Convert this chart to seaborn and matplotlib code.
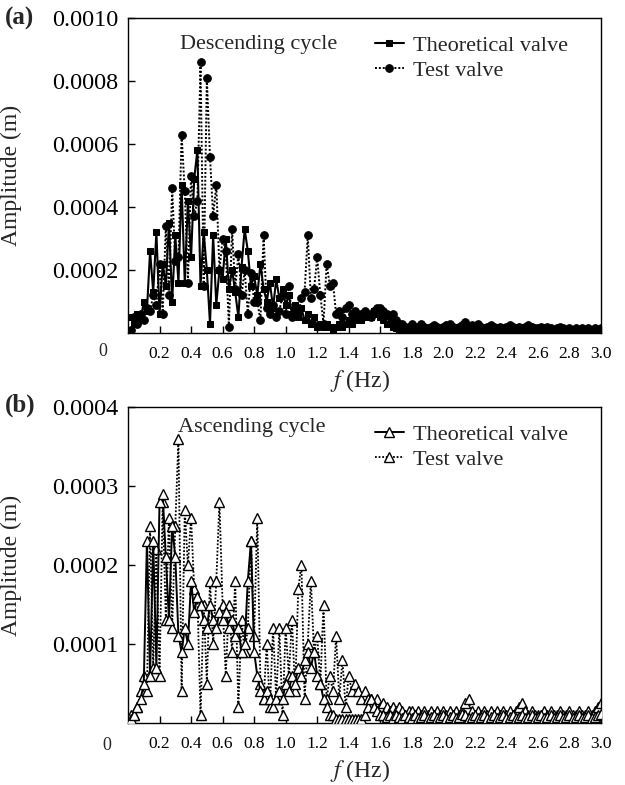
import numpy as np
import pandas as pd
import matplotlib
matplotlib.use("Agg")
import matplotlib.pyplot as plt
import seaborn as sns

# frequency grid (Hz)
freq = np.round(np.arange(1, 151) * 0.02, 2)

# amplitudes in units of 1e-5 m, 10 values per 0.2 Hz
desc_theoretical = [
    5, 3, 6, 4, 10, 7, 26, 13, 32, 6,
    22, 15, 35, 10, 31, 16, 47, 16, 42, 24,
    49, 58, 15, 32, 20, 3, 31, 9, 20, 17,
    30, 14, 20, 13, 5, 21, 33, 26, 15, 18,
    12, 22, 14, 10, 16, 8, 17, 11, 14, 9,
    12, 6, 9, 5, 8, 4, 6, 3, 5, 2,
    3, 2, 3, 2, 1, 2, 3, 2, 3, 4,
    3, 4, 5, 4, 5, 6, 5, 7, 6, 5,
    4, 3, 3, 2, 1.5, 1, 1, 1, 1, 1,
    1, 0.8, 1, 0.8, 1, 0.8, 1, 1, 0.8, 1,
    0.8, 1, 0.8, 1, 1, 0.8, 1, 0.8, 1, 0.8,
    1, 0.8, 1, 0.8, 1, 0.8, 0.8, 1, 0.8, 1,
    0.8, 1, 0.8, 0.8, 1, 0.8, 1, 0.8, 0.8, 1,
    0.8, 0.8, 1, 0.8, 0.8, 1, 0.8, 0.8, 1, 0.8,
    0.8, 0.8, 1, 0.8, 0.8, 0.8, 1, 0.8, 0.8, 0.8,
]
desc_test = [
    1, 5, 3, 6, 4, 8, 7, 12, 9, 22,
    6, 34, 12, 46, 23, 24, 63, 45, 16, 50,
    37, 42, 86, 15, 81, 56, 37, 47, 20, 30,
    26, 2, 33, 14, 25, 12, 20, 6, 19, 10,
    10, 4, 31, 8, 6, 9, 5, 7, 12, 6,
    15, 5, 8, 6, 11, 13, 31, 11, 14, 24,
    12, 3, 22, 15, 16, 6, 7, 5, 8, 9,
    6, 7, 5, 6, 7, 6, 5, 7, 8, 8,
    7, 6, 5, 6, 4, 3, 3, 2, 2, 3,
    2, 2, 3, 2, 1.5, 2, 2.5, 2, 1.5, 2,
    2.5, 3, 2, 1.5, 2, 2.5, 3.5, 2, 2.5, 2,
    3, 2, 1.5, 2, 2.5, 2, 1.5, 2, 1.5, 2,
    2.5, 2, 1.5, 2, 1.5, 2, 2.5, 2, 1.5, 1.5,
    2, 1.5, 2, 1.5, 1, 1.5, 2, 1.5, 1, 1.5,
    1, 1.5, 1, 1.5, 1, 1.5, 1, 1.5, 1, 1.5,
]
asc_theoretical = [
    0.5, 1, 2, 3, 5, 23, 6, 23, 7, 28,
    29, 21, 13, 25, 21, 11, 9, 12, 10, 18,
    14, 16, 15, 13, 12, 15, 13, 12, 14, 13,
    14, 12, 13, 11, 12, 9, 10, 18, 23, 9,
    6, 4, 3, 4, 3, 2, 3, 4, 3, 5,
    4, 6, 5, 7, 6, 8, 9, 7, 9, 6,
    5, 3, 2, 1, 1, 0.5, 0.5, 0.5, 0.5, 0.5,
    0.5, 0.5, 0.5, 0.5, 1, 2, 3, 2, 1.5, 1,
    1, 0.8, 1, 0.6, 1, 0.8, 0.6, 1, 0.8, 0.6,
    1, 0.6, 0.8, 1, 0.6, 0.8, 1, 0.6, 0.8, 1,
    0.6, 0.8, 1, 0.6, 0.8, 1.2, 1, 0.6, 0.8, 1,
    0.6, 0.8, 1, 0.6, 0.8, 1, 0.6, 0.8, 1, 0.6,
    0.8, 1, 0.6, 0.8, 1, 0.6, 0.8, 1, 0.6, 0.8,
    1, 0.6, 0.8, 1, 0.6, 0.8, 1, 0.6, 0.8, 1,
    0.6, 0.8, 1, 0.6, 0.8, 1, 0.6, 0.8, 1, 1.2,
]
asc_test = [
    1, 1, 2, 4, 6, 4, 25, 7, 22, 6,
    28, 13, 26, 12, 25, 36, 4, 27, 20, 26,
    17, 16, 1, 15, 5, 18, 10, 18, 28, 15,
    6, 15, 9, 18, 2, 13, 9, 12, 23, 11,
    26, 5, 3, 10, 2, 12, 3, 12, 1, 12,
    6, 13, 4, 17, 20, 3, 10, 18, 9, 11,
    5, 15, 3, 6, 4, 11, 3, 8, 2, 6,
    4, 5, 4, 3, 4, 3, 3, 2, 3, 2,
    2.5, 2, 1.5, 2, 1.5, 2, 1.5, 1, 1.5, 1.5,
    1, 1.5, 1, 1.5, 1, 1.5, 1, 1.5, 1, 1.5,
    1, 1.5, 1, 1.5, 1, 1.5, 2.5, 3, 1.5, 1,
    1.5, 1, 1.5, 1, 1.5, 1, 1.5, 1, 1.5, 1,
    1.5, 1, 1.5, 2, 2.5, 1.5, 1, 1.5, 1, 1,
    1, 1.5, 1, 1.5, 1, 1, 1.5, 1, 1, 1.5,
    1, 1, 1.5, 1, 1, 1.5, 1, 1.5, 2, 2.5,
]

x_ticks = [0.2, 0.4, 0.6, 0.8, 1.0, 1.2, 1.4, 1.6, 1.8, 2.0, 2.2, 2.4, 2.6, 2.8, 3.0]
x_ticklabels = [f"{t:.1f}" for t in x_ticks]
yticks_a = [0.0002, 0.0004, 0.0006, 0.0008, 0.0010]
yticks_b = [0.0001, 0.0002, 0.0003, 0.0004]

sns.set_style("ticks")
plt.rcParams["font.family"] = ["Liberation Serif", "DejaVu Serif"]
plt.rcParams["mathtext.fontset"] = "stix"

W, H = 625, 785
fig = plt.figure(figsize=(W / 100, H / 100), dpi=100)
L, R = 128, 601
ax1 = fig.add_axes([L / W, 1 - 333 / H, (R - L) / W, 315 / H])
ax2 = fig.add_axes([L / W, 1 - 723 / H, (R - L) / W, 316 / H])

df_a = pd.DataFrame({"f": freq,
                     "theo": np.array(desc_theoretical) * 1e-5,
                     "test": np.array(desc_test) * 1e-5})
df_b = pd.DataFrame({"f": freq,
                     "theo": np.array(asc_theoretical) * 1e-5,
                     "test": np.array(asc_test) * 1e-5})

dot = (0, (1, 1))
sns.lineplot(data=df_a, x="f", y="theo", ax=ax1, color="black", lw=1.5,
             linestyle="-", marker="s", markersize=4.5, markeredgecolor="black",
             label="Theoretical valve", zorder=3, sort=False)
sns.lineplot(data=df_a, x="f", y="test", ax=ax1, color="black", lw=1.4,
             linestyle=dot, marker="o", markersize=5.5, markeredgecolor="black",
             label="Test valve", zorder=2, sort=False)

sns.lineplot(data=df_b, x="f", y="theo", ax=ax2, color="black", lw=1.4,
             linestyle="-", marker="^", markersize=6.5, markerfacecolor="white",
             markeredgecolor="black", markeredgewidth=1.0,
             label="Theoretical valve", zorder=3, sort=False)
sns.lineplot(data=df_b, x="f", y="test", ax=ax2, color="black", lw=1.3,
             linestyle=dot, marker="^", markersize=6.5, markerfacecolor="white",
             markeredgecolor="black", markeredgewidth=1.0,
             label="Test valve", zorder=2, sort=False)

for ax, yt, ymax in [(ax1, yticks_a, 0.0010), (ax2, yticks_b, 0.0004)]:
    ax.set_xlim(0, 3.0)
    ax.set_ylim(0, ymax)
    ax.set_xticks(x_ticks)
    ax.set_xticklabels(x_ticklabels, fontsize=12.5)
    ax.set_yticks(yt)
    ax.set_yticklabels([f"{v:.4f}" for v in yt], fontsize=17.5)
    ax.tick_params(direction="in", length=5, width=1, pad=7, colors="black")
    ax.tick_params(axis="x", pad=9)
    for s in ax.spines.values():
        s.set_visible(True)
        s.set_linewidth(1.0)
        s.set_color("black")
    ax.set_ylabel("Amplitude (m)", fontsize=17)
    ax.yaxis.set_label_coords(-0.224, 0.5)
    ax.set_xlabel(r"$f$ (Hz)", fontsize=17)
    ax.xaxis.set_label_coords(0.49, -0.11)
    ax.legend(loc="upper left", bbox_to_anchor=(0.522, 0.945), frameon=False,
              fontsize=16, handlelength=1.3, handletextpad=0.4,
              labelspacing=0.2, borderaxespad=0, borderpad=0)

ax1.text(0.11, 0.915, "Descending cycle", transform=ax1.transAxes,
         fontsize=16, va="center", ha="left")
ax2.text(0.105, 0.935, "Ascending cycle", transform=ax2.transAxes,
         fontsize=16, va="center", ha="left")

fig.text(103 / W, 1 - 352 / H, "0", fontsize=13, ha="center", va="center")
fig.text(107 / W, 1 - 746 / H, "0", fontsize=13, ha="center", va="center")
fig.text(5 / W, 1 - 18 / H, "(a)", fontsize=18, fontweight="bold", ha="left", va="center")
fig.text(5 / W, 1 - 405 / H, "(b)", fontsize=18, fontweight="bold", ha="left", va="center")

fig.savefig("out.png", dpi=100)
